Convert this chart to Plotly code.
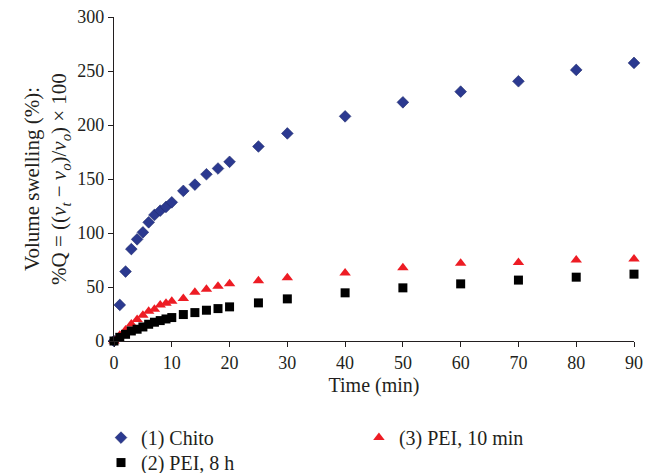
import plotly.graph_objects as go

time = [0, 1, 2, 3, 4, 5, 6, 7, 8, 9, 10, 12, 14, 16, 18, 20, 25, 30, 40, 50, 60, 70, 80, 90]
chito = [0, 33.4, 64.3, 85.1, 94.1, 100.6, 109.9, 116.7, 120.7, 124.1, 128.4, 139.0, 144.8, 154.4, 159.7, 165.9, 180.1, 192.2, 208.0, 221.0, 230.9, 240.5, 251.0, 257.5]
pei_10min = [0, 5.3, 10.2, 15.8, 20.0, 23.8, 27.5, 29.4, 33.4, 35.0, 36.8, 39.3, 45.2, 48.0, 50.8, 52.9, 55.7, 58.5, 62.9, 67.8, 72.1, 72.7, 74.9, 75.9]
pei_8h = [0, 3.4, 6.2, 9.3, 10.9, 13.0, 15.5, 17.4, 18.9, 20.4, 21.7, 24.5, 26.3, 28.5, 30.0, 31.6, 35.3, 39.0, 44.6, 49.2, 52.9, 56.4, 59.1, 61.9]

x_ticks = [0, 10, 20, 30, 40, 50, 60, 70, 80, 90]
y_ticks = [0, 50, 100, 150, 200, 250, 300]

FONT = "Liberation Serif"
INK = "#231F20"

fig = go.Figure()
fig.add_trace(go.Scatter(x=time, y=chito, mode="markers", name="(1) Chito", legend="legend",
                         marker=dict(symbol="diamond", size=9, color="#2B3990",
                                     line=dict(width=0.6, color="#1F2A6B")), cliponaxis=False))
fig.add_trace(go.Scatter(x=time, y=pei_10min, mode="markers", name="(3) PEI, 10 min", legend="legend2",
                         marker=dict(symbol="triangle-up", size=10, color="#ED1C24",
                                     line=dict(width=0)), cliponaxis=False))
fig.add_trace(go.Scatter(x=time, y=pei_8h, mode="markers", name="(2) PEI, 8 h", legend="legend3",
                         marker=dict(symbol="square", size=9, color="#000000",
                                     line=dict(width=0)), cliponaxis=False))

leg_common = dict(orientation="v", xanchor="left", yanchor="top", bgcolor="rgba(0,0,0,0)",
                  font=dict(family=FONT, size=20, color=INK), itemwidth=30,
                  tracegroupgap=0)

fig.update_layout(
    width=654, height=473,
    margin=dict(l=114, r=20, t=17, b=132, autoexpand=False),
    paper_bgcolor="white", plot_bgcolor="white",
    font=dict(family=FONT, size=18, color=INK),
    showlegend=True,
    legend=dict(x=-0.025, y=-0.238, **leg_common),
    legend2=dict(x=0.471, y=-0.238, **leg_common),
    legend3=dict(x=-0.025, y=-0.315, **leg_common),
    xaxis=dict(range=[0, 90], tickvals=x_ticks, ticktext=[str(v) for v in x_ticks],
               showgrid=False, zeroline=False, showline=True, linecolor=INK,
               linewidth=1.2, ticks="outside", ticklen=5, tickcolor=INK,
               tickfont=dict(family=FONT, size=18, color=INK),
               title=dict(text="Time (min)", font=dict(family=FONT, size=20, color=INK), standoff=6)),
    yaxis=dict(range=[0, 300], tickvals=y_ticks, ticktext=[str(v) for v in y_ticks],
               showgrid=False, zeroline=False, showline=True, linecolor=INK,
               linewidth=1.2, ticks="outside", ticklen=5, tickcolor=INK,
               tickfont=dict(family=FONT, size=18, color=INK),
               title=dict(text="Volume swelling (%):<br>%Q = ((<i>v</i><sub><i>t</i></sub> − <i>v</i><sub><i>o</i></sub>)/<i>v</i><sub><i>o</i></sub>) × 100",
                          font=dict(family=FONT, size=21, color=INK), standoff=4)),
)

fig.write_html("out.html", config={"displayModeBar": False},
               post_script="document.body.style.margin='0';")
